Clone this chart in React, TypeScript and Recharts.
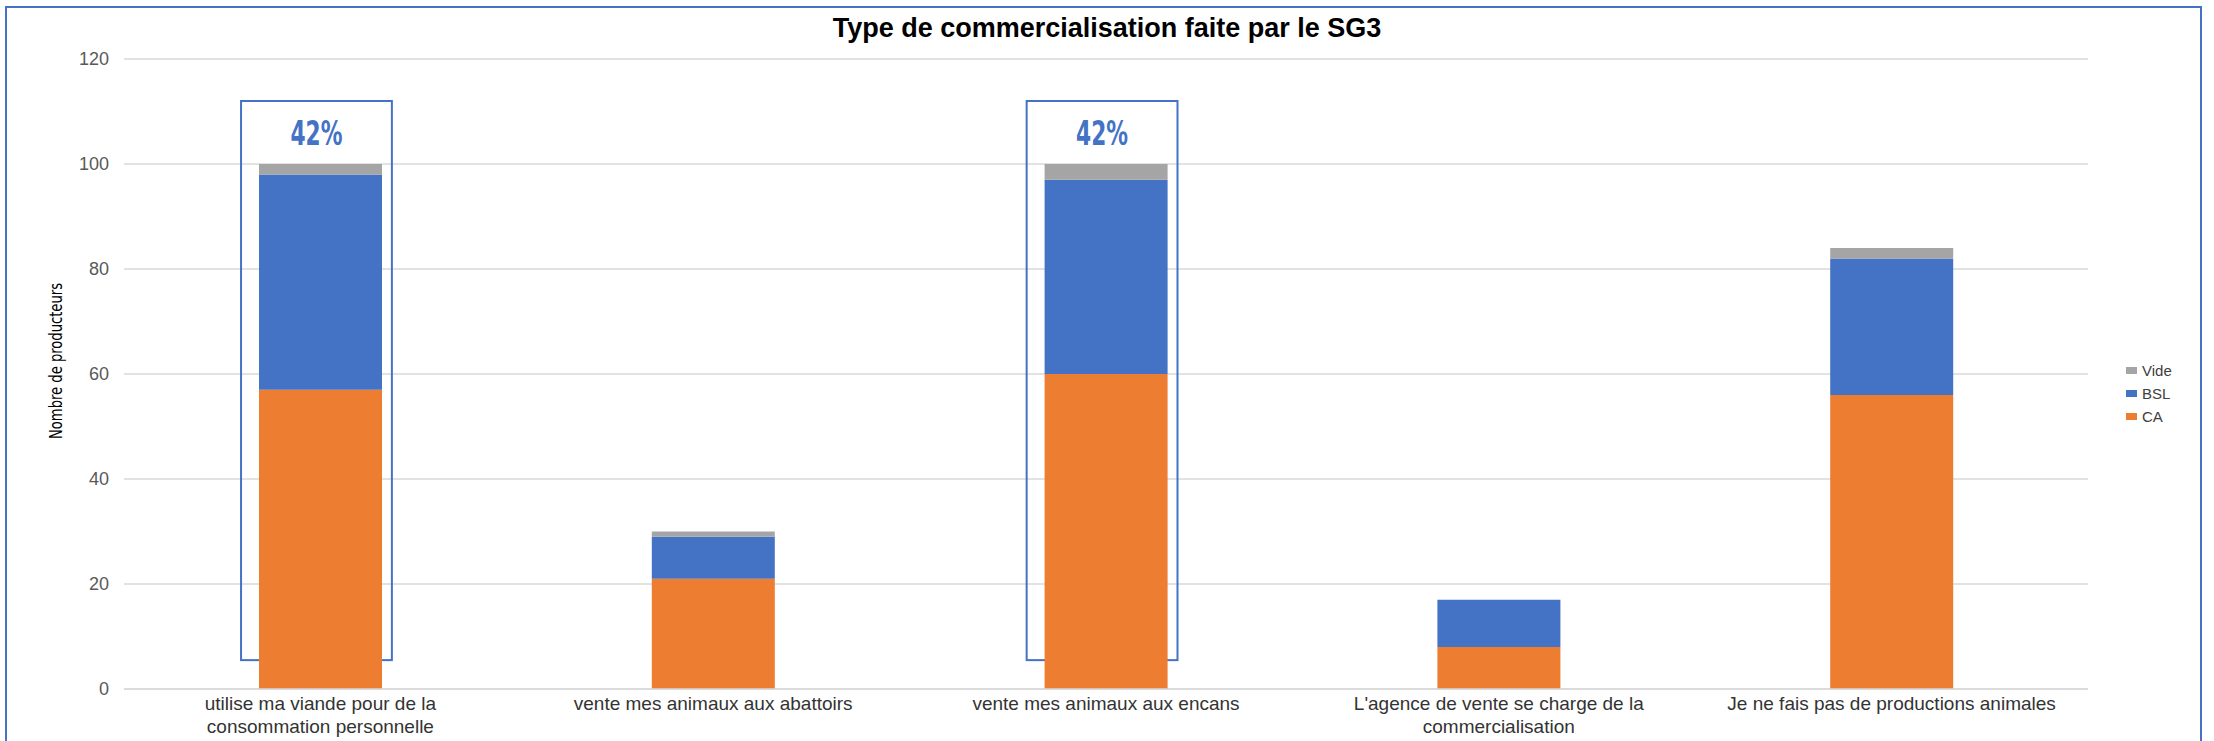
import React from "react";
import {
  BarChart,
  Bar,
  XAxis,
  YAxis,
  CartesianGrid,
  ReferenceArea,
} from "recharts";

const categories = [
  "utilise ma viande pour de la\nconsommation personnelle",
  "vente mes animaux aux abattoirs",
  "vente mes animaux aux encans",
  "L'agence de vente se charge de la\ncommercialisation",
  "Je ne fais pas de productions animales",
];
const caValues = [57, 21, 60, 8, 56];
const bslValues = [41, 8, 37, 9, 26];
const videValues = [2, 1, 3, 0, 2];
const yTicks = [0, 20, 40, 60, 80, 100, 120];
const highlighted = [0, 2];
const highlightLabel = "42%";
const legendOrder = ["Vide", "BSL", "CA"] as const;

const COLORS = { CA: "#ED7D31", BSL: "#4472C4", Vide: "#A5A5A5" };
const FONT = '"Liberation Sans", Arial, sans-serif';
const NARROW = '"DejaVu Sans Condensed", "Liberation Sans", sans-serif';

const data = categories.map((name, i) => ({
  name,
  CA: caValues[i],
  BSL: bslValues[i],
  Vide: videValues[i],
}));

function XTick({ x, y, payload }: any) {
  const lines = String(payload.value).split("\n");
  return (
    <text x={x} y={y} textAnchor="middle" fill="#333" fontSize={19} fontFamily={FONT}>
      {lines.map((line, i) => (
        <tspan key={i} x={x} dy={i === 0 ? 13 : 23}>
          {line}
        </tspan>
      ))}
    </text>
  );
}

function HighlightBox(props: any) {
  const { x, y, width, height } = props;
  const boxW = width * 0.384;
  const cx = x + width / 2 - width * 0.01;
  return (
    <g>
      <rect
        x={cx - boxW / 2}
        y={y}
        width={boxW}
        height={height}
        fill="none"
        stroke="#4472C4"
        strokeWidth={2}
      />
      <text
        x={cx}
        y={y + 44}
        textAnchor="middle"
        fill="#4472C4"
        fontSize={34}
        fontWeight="bold"
        fontFamily={NARROW}
        textLength={52}
        lengthAdjust="spacingAndGlyphs"
      >
        {highlightLabel}
      </text>
    </g>
  );
}

export default function App() {
  return (
    <div style={{ position: "fixed", left: 0, top: 0, width: 2214, height: 741, background: "#fff" }}>
      <div
        style={{
          position: "absolute",
          left: 5,
          top: 6,
          width: 2197,
          height: 760,
          border: "2px solid #4472C4",
          boxSizing: "border-box",
        }}
      />
      <div
        style={{
          position: "absolute",
          left: 0,
          top: 13,
          width: 2214,
          textAlign: "center",
          fontFamily: FONT,
          fontWeight: "bold",
          fontSize: 27,
          color: "#000",
        }}
      >
        Type de commercialisation faite par le SG3
      </div>

      {/* legend, top to bottom like the original */}
      <div
        style={{
          position: "absolute",
          left: 2126,
          top: 359,
          fontFamily: FONT,
          fontSize: 15,
          color: "#404040",
        }}
      >
        {legendOrder.map((k) => (
          <div key={k} style={{ display: "flex", alignItems: "center", height: 23 }}>
            <span
              style={{
                display: "inline-block",
                width: 11,
                height: 7,
                background: COLORS[k],
                marginRight: 5,
              }}
            />
            {k}
          </div>
        ))}
      </div>

      <div style={{ position: "absolute", left: 0, top: 0 }}>
        <BarChart
          width={2214}
          height={741}
          data={data}
          margin={{ top: 59, right: 126, bottom: 0, left: 64 }}
          barSize={123}
        >
          <CartesianGrid vertical={false} stroke="#D9D9D9" strokeWidth={1.5} />
          <XAxis
            dataKey="name"
            height={52}
            tickLine={false}
            axisLine={{ stroke: "#D9D9D9", strokeWidth: 1.5 }}
            interval={0}
            tick={<XTick />}
          />
          <YAxis
            width={60}
            domain={[0, 120]}
            ticks={yTicks}
            tickLine={false}
            axisLine={false}
            tickMargin={9}
            tick={{ fill: "#595959", fontSize: 18, fontFamily: FONT }}
            label={{
              content: ({ viewBox }: any) => {
                const cx = viewBox.x - 8;
                const cy = viewBox.y + viewBox.height / 2 - 13;
                return (
                  <text
                    x={cx}
                    y={cy}
                    transform={`rotate(-90 ${cx} ${cy})`}
                    textAnchor="middle"
                    dominantBaseline="central"
                    fill="#000"
                    fontSize={17}
                    fontFamily={NARROW}
                    textLength={156}
                    lengthAdjust="spacingAndGlyphs"
                  >
                    Nombre de producteurs
                  </text>
                );
              },
            }}
          />
          <Bar dataKey="CA" stackId="a" fill={COLORS.CA} isAnimationActive={false} />
          <Bar dataKey="BSL" stackId="a" fill={COLORS.BSL} isAnimationActive={false} />
          <Bar dataKey="Vide" stackId="a" fill={COLORS.Vide} isAnimationActive={false} />
          {highlighted.map((i) => (
            <ReferenceArea
              key={i}
              x1={categories[i]}
              x2={categories[i]}
              y1={5.5}
              y2={112}
              ifOverflow="visible"
              shape={<HighlightBox />}
            />
          ))}
        </BarChart>
      </div>
    </div>
  );
}
